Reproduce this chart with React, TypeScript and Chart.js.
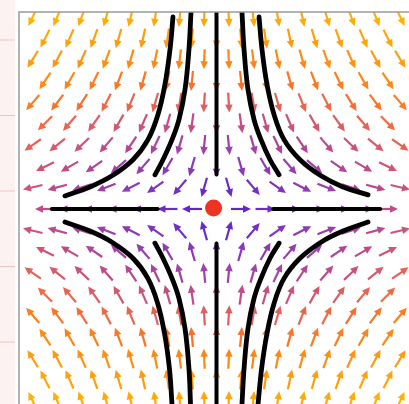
import React, { useEffect, useRef } from "react";
import { Chart, registerables } from "chart.js";
Chart.register(...registerables);

// ---- vector field: x' = A*x, y' = D*y (saddle) ----
const FIELD_A = 1;
const FIELD_D = -2;

// staggered (hexagonal) arrow grid, top row first
const rowY = [1.95, 1.73, 1.52, 1.3, 1.08, 0.87, 0.65, 0.43, 0.22, 0, -0.22, -0.43, -0.65, -0.87, -1.08, -1.3, -1.52, -1.73, -1.95];
const evenRowX = [-1.75, -1.5, -1.25, -1, -0.75, -0.5, -0.25, 0, 0.25, 0.5, 0.75, 1, 1.25, 1.5, 1.75];
const oddRowX = [-1.875, -1.625, -1.375, -1.125, -0.875, -0.625, -0.375, -0.125, 0.125, 0.375, 0.625, 0.875, 1.125, 1.375, 1.625, 1.875];

// colour by speed
const speedStops = [0.3, 0.9, 1.3, 1.75, 2.2, 2.6, 3.0, 3.5, 4.0, 4.4];
const speedColors = ["#5f26cc", "#8a38b8", "#a040a8", "#c04c88", "#e06060", "#f87030", "#ff8418", "#ff9a10", "#ffaa08", "#ffb400"];

// hand-drawn trajectories (data units)
const axisTopX = [0, 0];
const axisTopY = [2.0, 0.35];
const axisBottomX = [0, 0];
const axisBottomY = [-0.35, -1.98];
const axisLeftX = [-1.68, -0.6];
const axisLeftY = [0, 0];
const axisRightX = [0.58, 1.67];
const axisRightY = [0, 0];

const tlOuterX = [-0.444, -0.474, -0.526, -0.597, -0.699, -0.852, -1.066, -1.291, -1.546];
const tlOuterY = [1.95, 1.622, 1.265, 0.959, 0.704, 0.5, 0.337, 0.224, 0.133];
const tlInnerX = [-0.26, -0.281, -0.321, -0.383, -0.454, -0.546, -0.628];
const tlInnerY = [2.0, 1.622, 1.214, 0.908, 0.704, 0.5, 0.347];

const trOuterX = [0.434, 0.464, 0.515, 0.587, 0.689, 0.852, 1.066, 1.291, 1.546];
const trOuterY = [1.95, 1.622, 1.265, 0.959, 0.704, 0.5, 0.337, 0.224, 0.143];
const trInnerX = [0.26, 0.281, 0.321, 0.383, 0.454, 0.546, 0.638];
const trInnerY = [2.0, 1.622, 1.214, 0.908, 0.704, 0.5, 0.347];

const blOuterX = [-0.454, -0.48, -0.53, -0.6, -0.7, -0.852, -1.066, -1.291, -1.546];
const blOuterY = [-1.98, -1.622, -1.265, -0.959, -0.704, -0.5, -0.337, -0.224, -0.133];
const blInnerX = [-0.265, -0.281, -0.321, -0.383, -0.454, -0.546, -0.628];
const blInnerY = [-1.98, -1.622, -1.214, -0.908, -0.704, -0.5, -0.347];

const brOuterX = [0.424, 0.46, 0.515, 0.587, 0.689, 0.852, 1.066, 1.291, 1.546];
const brOuterY = [-1.98, -1.622, -1.265, -0.959, -0.704, -0.5, -0.337, -0.224, -0.133];
const brInnerX = [0.26, 0.281, 0.321, 0.383, 0.454, 0.546, 0.638];
const brInnerY = [-1.98, -1.622, -1.214, -0.908, -0.704, -0.5, -0.347];

const equilibriumX = [-0.03];
const equilibriumY = [0.01];

const marginRuleY = [40, 115.5, 191, 266.5, 342];

function hexToRgb(h: string) {
  const n = parseInt(h.slice(1), 16);
  return [(n >> 16) & 255, (n >> 8) & 255, n & 255];
}
function speedColor(m: number) {
  if (m <= speedStops[0]) return speedColors[0];
  for (let i = 1; i < speedStops.length; i++) {
    if (m <= speedStops[i]) {
      const t = (m - speedStops[i - 1]) / (speedStops[i] - speedStops[i - 1]);
      const a = hexToRgb(speedColors[i - 1]);
      const b = hexToRgb(speedColors[i]);
      const c = a.map((v, k) => Math.round(v + (b[k] - v) * t));
      return `rgb(${c[0]},${c[1]},${c[2]})`;
    }
  }
  return speedColors[speedColors.length - 1];
}

function zip(xs: number[], ys: number[]) {
  return xs.map((x, i) => ({ x, y: ys[i] }));
}

const gridPoints: { x: number; y: number }[] = [];
rowY.forEach((y, r) => {
  const k = Math.abs(9 - r);
  const xs = k % 2 === 1 ? oddRowX : evenRowX;
  xs.forEach((x) => gridPoints.push({ x, y }));
});

const quiverPlugin = {
  id: "quiver",
  beforeDatasetsDraw(chart: any) {
    const { ctx, chartArea } = chart;
    const xs = chart.scales.x;
    const ys = chart.scales.y;
    const kx = xs.getPixelForValue(1) - xs.getPixelForValue(0);
    const ky = ys.getPixelForValue(1) - ys.getPixelForValue(0);
    const meta = chart.getDatasetMeta(chart.data.datasets.length - 1);
    const raw = chart.data.datasets[chart.data.datasets.length - 1].data;
    const L = 20;
    const headL = 8;
    const headW = 3.8;
    ctx.save();
    ctx.beginPath();
    ctx.rect(chartArea.left, chartArea.top, chartArea.right - chartArea.left, chartArea.bottom - chartArea.top);
    ctx.clip();
    meta.data.forEach((el: any, i: number) => {
      const p = raw[i];
      const u = FIELD_A * p.x;
      const v = FIELD_D * p.y;
      const m = Math.hypot(u, v);
      if (m < 1e-9) return;
      let dx = u * kx;
      let dy = v * ky;
      const d = Math.hypot(dx, dy);
      dx /= d;
      dy /= d;
      const cx = el.x;
      const cy = el.y;
      const tx = cx - (dx * L) / 2;
      const ty = cy - (dy * L) / 2;
      const hx = cx + (dx * L) / 2;
      const hy = cy + (dy * L) / 2;
      const bx = hx - dx * headL;
      const by = hy - dy * headL;
      const col = speedColor(m);
      ctx.strokeStyle = col;
      ctx.fillStyle = col;
      ctx.lineWidth = 2.2;
      ctx.lineCap = "butt";
      ctx.beginPath();
      ctx.moveTo(tx, ty);
      ctx.lineTo(bx + dx, by + dy);
      ctx.stroke();
      ctx.beginPath();
      ctx.moveTo(hx, hy);
      ctx.lineTo(bx - dy * headW, by + dx * headW);
      ctx.lineTo(bx + dy * headW, by - dx * headW);
      ctx.closePath();
      ctx.fill();
    });
    ctx.restore();
  },
};

const framePlugin = {
  id: "frame",
  beforeDraw(chart: any) {
    const { ctx, height } = chart;
    ctx.save();
    ctx.fillStyle = "#fdf2f2";
    ctx.fillRect(0, 0, 15, height);
    ctx.strokeStyle = "#f2c2c2";
    ctx.lineWidth = 1;
    marginRuleY.forEach((y) => {
      ctx.beginPath();
      ctx.moveTo(0, y);
      ctx.lineTo(15, y);
      ctx.stroke();
    });
    ctx.restore();
  },
  afterDraw(chart: any) {
    const { ctx, chartArea, width, height } = chart;
    ctx.save();
    ctx.strokeStyle = "#9a9a9a";
    ctx.lineWidth = 1.5;
    ctx.beginPath();
    ctx.moveTo(chartArea.left, height);
    ctx.lineTo(chartArea.left, chartArea.top);
    ctx.lineTo(width, chartArea.top);
    ctx.stroke();
    ctx.restore();
  },
};

function curve(xs: number[], ys: number[], w = 4.8) {
  return {
    type: "line" as const,
    data: zip(xs, ys),
    borderColor: "#000000",
    borderWidth: w,
    pointRadius: 0,
    tension: 0.4,
    fill: false,
    showLine: true,
    borderCapStyle: "round" as const,
    order: 1,
  };
}

export default function App() {
  const ref = useRef<HTMLCanvasElement | null>(null);
  useEffect(() => {
    if (!ref.current) return;
    const chart = new Chart(ref.current, {
      type: "scatter",
      data: {
        datasets: [
          {
            label: "equilibrium",
            data: zip(equilibriumX, equilibriumY),
            pointRadius: 8.5,
            backgroundColor: "#ee3323",
            borderWidth: 0,
            order: 0,
          } as any,
          curve(axisTopX, axisTopY, 4),
          curve(axisBottomX, axisBottomY, 4),
          curve(axisLeftX, axisLeftY, 4),
          curve(axisRightX, axisRightY, 4),
          curve(tlOuterX, tlOuterY),
          curve(tlInnerX, tlInnerY),
          curve(trOuterX, trOuterY),
          curve(trInnerX, trInnerY),
          curve(blOuterX, blOuterY),
          curve(blInnerX, blInnerY),
          curve(brOuterX, brOuterY),
          curve(brInnerX, brInnerY),
          {
            label: "field",
            data: gridPoints,
            pointRadius: 0,
            showLine: false,
            order: 2,
          } as any,
        ],
      },
      options: {
        animation: false,
        responsive: false,
        events: [],
        layout: { autoPadding: false, padding: { left: 19, top: 12, right: 0, bottom: 0 } },
        plugins: { legend: { display: false }, tooltip: { enabled: false } },
        scales: {
          x: { type: "linear", min: -2.015, max: 1.964, display: false },
          y: { type: "linear", min: -1.98, max: 2.0, display: false },
        },
      },
      plugins: [quiverPlugin, framePlugin],
    } as any);
    return () => chart.destroy();
  }, []);
  return (
    <div style={{ position: "fixed", left: 0, top: 0, width: 409, height: 404, background: "#fff" }}>
      <canvas ref={ref} width={409} height={404} style={{ display: "block" }} />
    </div>
  );
}
